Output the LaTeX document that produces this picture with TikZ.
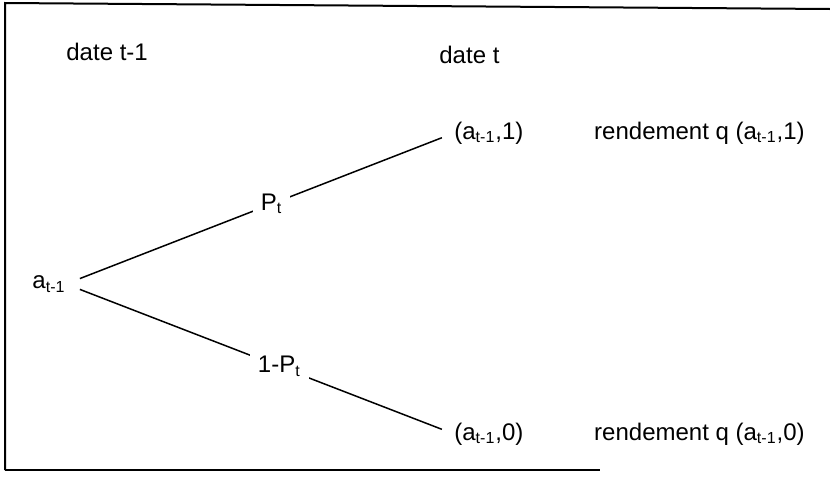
\documentclass[tikz,border=0pt]{standalone}
\usepackage{fontspec}
\setmainfont{Liberation Sans}
\usetikzlibrary{positioning}

\begin{document}
\begin{tikzpicture}[
  x=0.5pt, y=-0.5pt,
  txt/.style={inner sep=0pt, font=\fontsize{12}{14.4}\selectfont},
  prob/.style={txt, fill=white, inner xsep=4pt, inner ysep=2pt},
  branch/.style={line width=0.75pt, shorten <=7.5pt, shorten >=6.5pt},
  frameline/.style={line width=1pt}
]
\useasboundingbox (0,0) rectangle (830,477);
% cadre
\draw[frameline] (5,470) -- (5,3) -- (830,9);
\draw[frameline] (5,470) -- (600,470);

% dates
\node[txt, anchor=west] (d0) at (66,52) {date t-1};
\node[txt, anchor=west] (d1) at (439,55) {date t};

% arbre
\node[txt] (root) at (49,284) {a\textsubscript{t-1}};
\node[txt, anchor=west] (up) at (454,133) {(a\textsubscript{t-1},1)};
\node[txt, anchor=west] (down) at (454,434) {(a\textsubscript{t-1},0)};
\node[txt, right=35pt of up] (rup) {rendement q (a\textsubscript{t-1},1)};
\node[txt, right=35pt of down] (rdown) {rendement q (a\textsubscript{t-1},0)};

\draw[branch] (root.east) -- node[prob, pos=0.53] (pu) {P\textsubscript{t}} (up.west);
\draw[branch] (root.east) -- node[prob, pos=0.55] (pd) {1-P\textsubscript{t}} (down.west);
\end{tikzpicture}
\end{document}
